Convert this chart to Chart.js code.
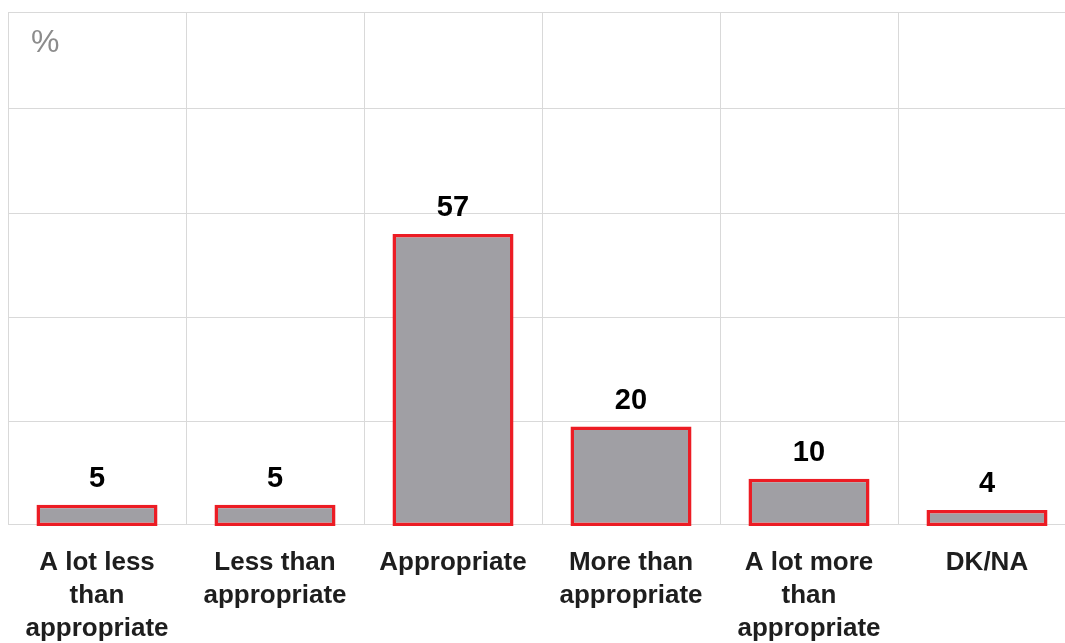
<!DOCTYPE html>
<html>
<head>
<meta charset="utf-8">
<script src="https://cdn.jsdelivr.net/npm/chart.js@4/dist/chart.umd.min.js"></script>
<style>
  html, body { margin: 0; padding: 0; background: #fff; overflow: hidden; }
  #wrap { width: 1076px; height: 643px; }
</style>
</head>
<body>
<div id="wrap"><canvas id="chart"></canvas></div>
<script>
const categories = [
    ['A lot less', 'than', 'appropriate'],
    ['Less than', 'appropriate'],
    'Appropriate',
    ['More than', 'appropriate'],
    ['A lot more', 'than', 'appropriate'],
    'DK/NA'
];
const shares = [5, 5, 57, 20, 10, 4];
// horizontal grid positions (unlabelled)
const gridValues = [1.3, 21, 41, 61, 81, 99.6];

// value labels above each bar + the unit marker in the corner
const barLabels = {
    id: 'barLabels',
    afterDatasetsDraw(chart) {
        const ctx = chart.ctx;
        const meta = chart.getDatasetMeta(0);
        ctx.save();
        ctx.font = "bold 29px 'Liberation Sans', Arial, sans-serif";
        ctx.fillStyle = '#000';
        ctx.textAlign = 'center';
        ctx.textBaseline = 'alphabetic';
        meta.data.forEach((bar, i) => {
            ctx.fillText(shares[i], bar.x, bar.y - 18);
        });
        ctx.font = "32px 'Liberation Sans', Arial, sans-serif";
        ctx.fillStyle = '#8c8c8c';
        ctx.textAlign = 'left';
        ctx.textBaseline = 'top';
        ctx.fillText('%', chart.chartArea.left + 23, chart.chartArea.top + 15);
        ctx.restore();
    }
};

new Chart(document.getElementById('chart'), {
    type: 'bar',
    data: {
        labels: categories,
        datasets: [{
            data: shares,
            backgroundColor: '#a09fa4',
            borderColor: '#ec1c24',
            borderWidth: 3.5,
            borderSkipped: false,
            base: 0.9,
            categoryPercentage: 0.68,
            barPercentage: 1,
            clip: false
        }]
    },
    options: {
        responsive: true,
        maintainAspectRatio: false,
        animation: false,
        layout: { padding: { left: 8, top: 12, right: 0, bottom: 0 } },
        plugins: {
            legend: { display: false },
            tooltip: { enabled: false }
        },
        scales: {
            x: {
                afterFit(axis) { axis.height = 119; },
                grid: { color: '#d9d9d9', lineWidth: 1, offset: true, drawTicks: false },
                border: { color: '#d9d9d9' },
                ticks: {
                    color: '#1e1e1e',
                    padding: 22,
                    maxRotation: 0,
                    font: { family: "'Liberation Sans', Arial, sans-serif", size: 26, weight: 'bold', lineHeight: 1.27 }
                }
            },
            y: {
                min: 1.3,
                max: 99.6,
                afterBuildTicks(axis) {
                    axis.ticks = gridValues.map(v => ({ value: v }));
                },
                grid: { color: '#d9d9d9', lineWidth: 1, drawTicks: false },
                border: { display: false },
                ticks: { display: false }
            }
        }
    },
    plugins: [barLabels]
});
</script>
</body>
</html>
